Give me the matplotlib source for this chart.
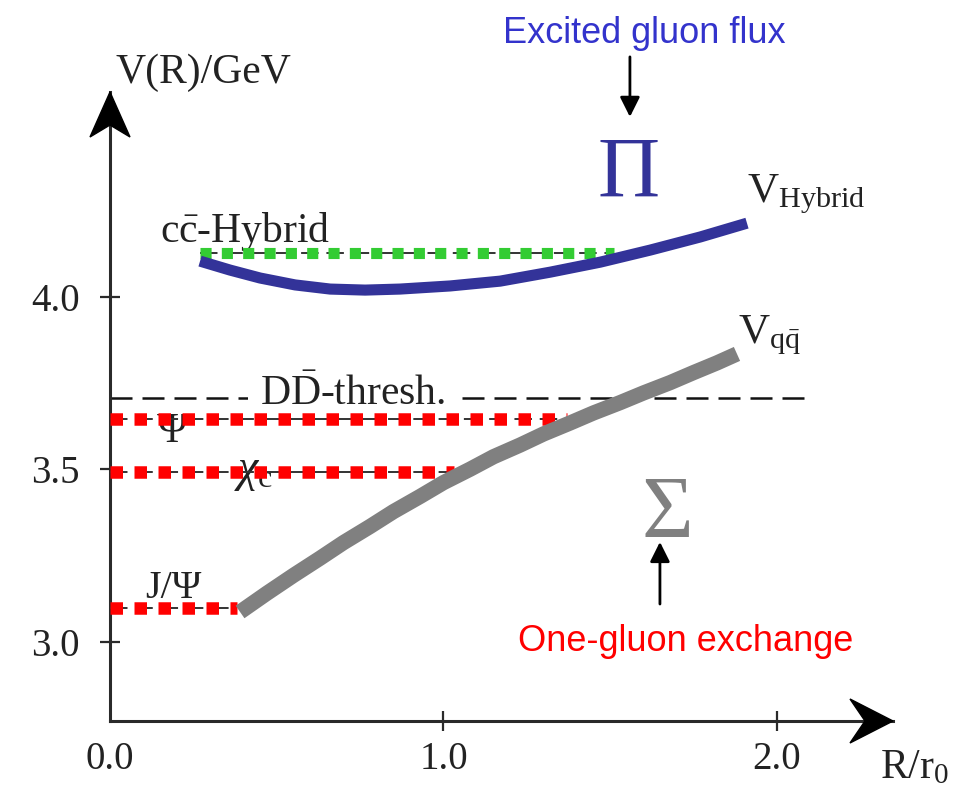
import matplotlib
matplotlib.use('Agg')
import matplotlib.pyplot as plt
from matplotlib.patches import Polygon

# Static quark potentials, R in units of r0, V in GeV
r_sigma = [0.39, 0.47, 0.55, 0.63, 0.70, 0.78, 0.85, 0.93, 1.00, 1.08, 1.15,
           1.23, 1.30, 1.38, 1.45, 1.53, 1.60, 1.68, 1.75, 1.82, 1.88]
v_sigma = [3.087, 3.141, 3.193, 3.243, 3.288, 3.335, 3.378, 3.422, 3.462, 3.501, 3.537,
           3.571, 3.603, 3.635, 3.664, 3.694, 3.722, 3.752, 3.781, 3.809, 3.835]

r_pi = [0.27, 0.36, 0.45, 0.555, 0.66, 0.765, 0.87, 1.02, 1.17, 1.32, 1.47,
        1.62, 1.77, 1.91]
v_pi = [4.104, 4.078, 4.055, 4.035, 4.023, 4.020, 4.023, 4.032, 4.046, 4.072, 4.101,
        4.136, 4.174, 4.214]

# Charmonium levels (GeV) and how far along R they are drawn
level_energy = [3.099, 3.493, 3.646, 4.128]
level_start = [0.0, 0.0, 0.0, 0.27]
level_end = [0.38, 1.03, 1.37, 1.51]
level_color = ['#ff0000', '#ff0000', '#ff0000', '#33cc33']
level_width = [9.0, 9.0, 9.0, 8.0]

dd_threshold = 3.707
dd_end = 2.10

x_ticks = [0.0, 1.0, 2.0]
x_tick_labels = ['0.0', '1.0', '2.0']
y_ticks = [3.0, 3.5, 4.0]
y_tick_labels = ['3.0', '3.5', '4.0']

plt.rcParams['font.family'] = ['Liberation Serif', 'DejaVu Serif']
plt.rcParams['mathtext.fontset'] = 'custom'
plt.rcParams['mathtext.rm'] = 'Liberation Serif'
plt.rcParams['mathtext.it'] = 'Liberation Serif:italic'
plt.rcParams['mathtext.bf'] = 'Liberation Serif:bold'

W, H = 965, 789
fig = plt.figure(figsize=(W / 100, H / 100), dpi=100)
# axes corner at pixel (110, 721), arrow tips at x=893 and y=92
ax = fig.add_axes([110 / W, 68 / H, 783 / W, 629 / H])
px_per_r = 333.5
px_per_gev = 345.0
ax.set_xlim(0, 783 / px_per_r)
ax.set_ylim(2.771, 2.771 + 629 / px_per_gev)

axis_color = '#2a2a2a'
for side in ['top', 'right']:
    ax.spines[side].set_visible(False)
for side in ['left', 'bottom']:
    ax.spines[side].set_color(axis_color)
    ax.spines[side].set_linewidth(2.2)

# stealth style arrow heads at the axis ends (axes fraction)
hx, hy = 20 / 783, 45 / 629
ax.add_patch(Polygon([(0, 1), (-hx, 1 - hy), (0, 1 - 33 / 629), (hx, 1 - hy)],
                     closed=True, transform=ax.transAxes, color='black',
                     clip_on=False, zorder=6))
hx, hy = 43 / 783, 22 / 629
ax.add_patch(Polygon([(1, 0), (1 - hx, hy), (1 - 28 / 783, 0), (1 - hx, -hy)],
                     closed=True, transform=ax.transAxes, color='black',
                     clip_on=False, zorder=6))

ax.set_xticks(x_ticks)
ax.set_xticklabels(x_tick_labels)
ax.set_yticks(y_ticks)
ax.set_yticklabels(y_tick_labels)
ax.tick_params(direction='inout', length=14.4, width=1.6, color=axis_color,
               labelsize=28, labelcolor='#222222')
ax.tick_params(axis='x', pad=7.5)
ax.tick_params(axis='y', pad=14.4)
ax.xaxis.get_major_ticks()[0].tick1line.set_visible(False)

# D Dbar threshold
ax.plot([0, dd_end], [dd_threshold, dd_threshold], color='#111111', lw=1.8,
        dashes=(8.8, 4), solid_capstyle='butt', zorder=1, clip_on=False)
ax.text(0.45, 3.687, r'D$\bar{\mathrm{D}}$-thresh.', fontsize=30, color='#222222',
        ha='left', va='baseline', zorder=2,
        bbox=dict(boxstyle='square,pad=0.3', fc='white', ec='none'))

# level labels
ax.text(0.150, 4.159, r'c$\bar{\mathrm{c}}$-Hybrid', fontsize=30, color='#222222',
        ha='left', va='baseline', zorder=2)
ax.text(0.141, 3.580, "Ψ'", fontsize=30, color='#222222', ha='left',
        va='baseline', zorder=2)
ax.text(0.372, 3.466, r'$\chi_{\mathrm{c}}$', fontsize=33, color='#222222',
        ha='left', va='baseline', zorder=2)
ax.text(0.105, 3.128, 'J/Ψ', fontsize=29, color='#222222', ha='left',
        va='baseline', zorder=2)

# levels: thin dashed line with thick square dots on top
for e, r0, r1, c, w in zip(level_energy, level_start, level_end, level_color, level_width):
    ax.plot([r0, r1], [e, e], color='#333333', lw=1.4, dashes=(9, 4),
            zorder=3, clip_on=False)
    ax.plot([r0, r1], [e, e], color=c, lw=w, dashes=(1.0, 0.92),
            dash_capstyle='butt', zorder=4, clip_on=False)

# potentials
ax.plot(r_sigma, v_sigma, color='#808080', lw=11, solid_capstyle='butt',
        solid_joinstyle='round', zorder=5)
ax.plot(r_pi, v_pi, color='#333399', lw=8.0, solid_capstyle='butt',
        solid_joinstyle='round', zorder=5)

ax.text(1.91, 4.275, r'V$_{\mathrm{Hybrid}}$', fontsize=31, color='#222222',
        ha='left', va='baseline')
ax.text(1.883, 3.867, r'V$_{\mathrm{q\bar{q}}}$', fontsize=31, color='#222222',
        ha='left', va='baseline')

# gluon flux symmetry labels
ax.text(1.556, 4.290, 'Π', fontsize=62, color='#333399', ha='center', va='baseline')
ax.text(1.670, 3.304, 'Σ', fontsize=64, color='#808080', ha='center', va='baseline')

head = '-|>,head_length=1.2,head_width=0.6'
ax.annotate('', xy=(1.559, 4.522), xytext=(1.559, 4.696),
            arrowprops=dict(arrowstyle=head, color='black', lw=2.0,
                            shrinkA=0, shrinkB=0),
            annotation_clip=False)
ax.text(1.603, 4.736, 'Excited gluon flux', fontsize=26, color='#3333cc',
        family='Liberation Sans', ha='center', va='baseline')

ax.annotate('', xy=(1.649, 3.290), xytext=(1.649, 3.110),
            arrowprops=dict(arrowstyle=head, color='black', lw=2.0,
                            shrinkA=0, shrinkB=0),
            annotation_clip=False)
ax.text(1.727, 2.975, 'One-gluon exchange', fontsize=26, color='#ff0000',
        family='Liberation Sans', ha='center', va='baseline')

# axis titles
ax.text(0.015, 4.620, 'V(R)/GeV', fontsize=30, color='#222222', ha='left',
        va='baseline', clip_on=False)
ax.text(2.309, 2.606, r'R/r$_0$', fontsize=30, color='#222222', ha='left',
        va='baseline', clip_on=False)

fig.savefig('out.png', dpi=100)
